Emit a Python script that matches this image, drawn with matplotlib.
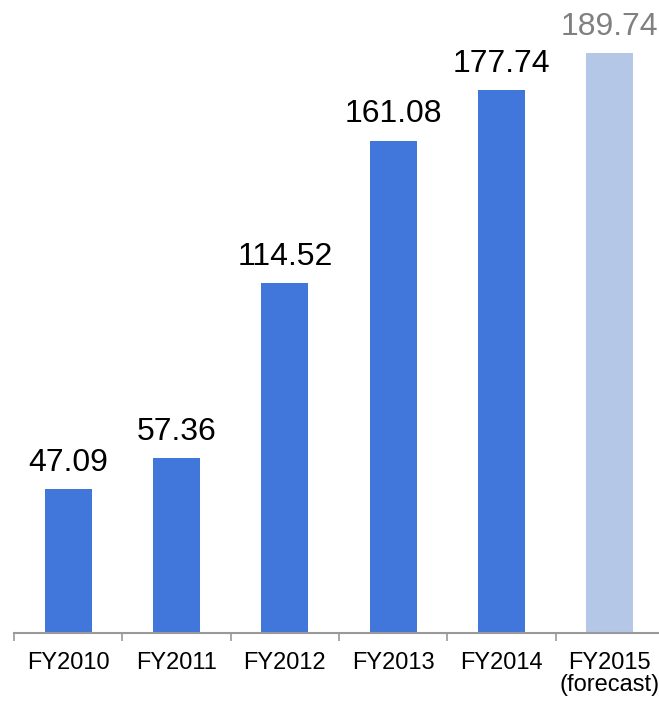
import matplotlib
matplotlib.use("Agg")
import matplotlib.pyplot as plt
import numpy as np

plt.rcParams["font.family"] = ["Liberation Sans", "DejaVu Sans"]

years = ["FY2010", "FY2011", "FY2012", "FY2013", "FY2014", "FY2015\n(forecast)"]
values = [47.09, 57.36, 114.52, 161.08, 177.74, 189.74]
is_forecast = [False, False, False, False, False, True]

BLUE = "#4176DA"
LIGHT = "#B4C7E7"
GRAY = "#999999"

W, H = 659, 702
fig = plt.figure(figsize=(W / 100, H / 100), dpi=100)
# axis spans 14..664 px horizontally (runs off the right edge like the original)
ax = fig.add_axes([14 / W, 69 / H, 650 / W, 611.4 / H])

x = np.arange(len(years))
colors = [LIGHT if f else BLUE for f in is_forecast]
ax.bar(x, values, width=0.434, color=colors)

for xi, v, f in zip(x, values, is_forecast):
    ax.annotate(
        f"{v:.2f}",
        (xi, v),
        xytext=(0, 8),
        textcoords="offset points",
        ha="center",
        va="bottom",
        fontsize=23,
        color="#808080" if f else "black",
    )

ax.set_xlim(-0.5, len(years) - 0.5)
ax.set_ylim(0, 200)
ax.set_xticks(x)
ax.set_xticklabels(years, fontsize=17, linespacing=1.0)
ax.set_xticks(np.arange(-0.5, len(years)), minor=True)
ax.tick_params(axis="x", which="major", length=0, pad=14)
ax.tick_params(axis="x", which="minor", length=6, width=1.2, color=GRAY, direction="out")
ax.set_yticks([])
for s in ["left", "right", "top"]:
    ax.spines[s].set_visible(False)
ax.spines["bottom"].set_color(GRAY)
ax.spines["bottom"].set_linewidth(1.5)

fig.savefig("out.png", dpi=100)
